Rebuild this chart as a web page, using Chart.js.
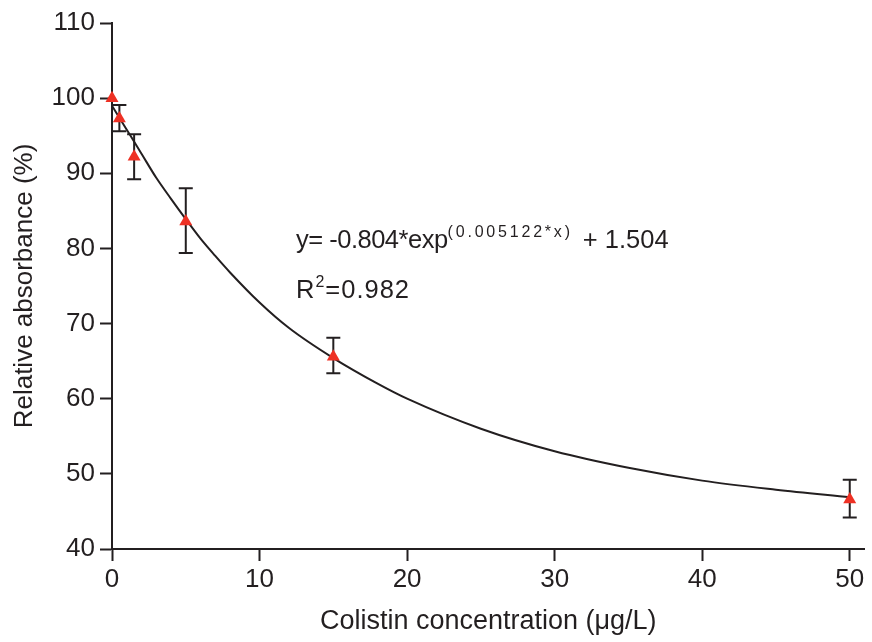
<!DOCTYPE html>
<html>
<head>
<meta charset="utf-8">
<script src="https://cdn.jsdelivr.net/npm/chart.js@4.4.1/dist/chart.umd.min.js"></script>
<style>
    body { margin: 0; background: #fff; }
    #wrap { position: relative; width: 872px; height: 642px; }
    .eq {
        position: absolute;
        font-family: "Liberation Sans", Arial, sans-serif;
        font-size: 25.5px;
        color: #231f20;
        white-space: nowrap;
        line-height: 1;
    }
    .eq sup { font-size: 16px; position: relative; top: -3px; vertical-align: top; }
    .eq .tight { letter-spacing: -0.5px; }
    .eq .sp { letter-spacing: 2.8px; }
</style>
</head>
<body>
<div id="wrap">
    <canvas id="chart" width="872" height="642"></canvas>
    <div class="eq" style="left:296px; top:227px;"><span class="tight">y= -0.804*exp</span><sup class="sp">(0.005122*x)</sup><span style="margin-left:10px">+ 1.504</span></div>
    <div class="eq" style="left:296px; top:277px; letter-spacing:1px;">R<sup>2</sup>=0.982</div>
</div>
<script>
// Measured points
const concentrations = [0, 0.5, 1.5, 5, 15, 50];
const absorbance = [100, 97.3, 92.2, 83.6, 65.6, 46.6];
const errLow = [null, 95.6, 89.2, 79.4, 63.4, 44.2];
const errHigh = [null, 99.1, 95.2, 88.0, 68.1, 49.2];

// Fitted curve
const fitX = [0, 1, 2, 3, 4, 5, 6, 7, 8, 10, 12, 15, 18, 20, 25, 30, 35, 40, 45, 50];
const fitY = [99.0, 95.8, 92.6, 89.4, 86.6, 83.9, 81.3, 79.0, 76.8, 72.8, 69.4, 65.4, 62.0, 60.0, 56.0, 53.0, 50.8, 49.1, 47.9, 46.9];

const xTicks = [0, 10, 20, 30, 40, 50];
const yTicks = [40, 50, 60, 70, 80, 90, 100, 110];

const ink = '#231f20';
const red = '#ee3124';
const font = { family: '"Liberation Sans", Arial, sans-serif', size: 26 };

// Draw error bars from the scales
const errorBars = {
    id: 'errorBars',
    beforeDatasetsDraw(chart) {
        const ctx = chart.ctx;
        const xs = chart.scales.x, ys = chart.scales.y;
        ctx.save();
        ctx.strokeStyle = ink;
        ctx.lineWidth = 2;
        concentrations.forEach((c, i) => {
            if (errLow[i] == null) return;
            const px = xs.getPixelForValue(c);
            const top = ys.getPixelForValue(errHigh[i]);
            const bot = ys.getPixelForValue(errLow[i]);
            ctx.beginPath();
            ctx.moveTo(px, top); ctx.lineTo(px, bot);
            ctx.moveTo(px - 7, top); ctx.lineTo(px + 7, top);
            ctx.moveTo(px - 7, bot); ctx.lineTo(px + 7, bot);
            ctx.stroke();
        });
        ctx.restore();
    }
};

new Chart(document.getElementById('chart'), {
    type: 'scatter',
    data: {
        datasets: [{
            type: 'line',
            data: fitX.map((x, i) => ({ x: x, y: fitY[i] })),
            borderColor: ink,
            borderWidth: 2,
            pointRadius: 0,
            cubicInterpolationMode: 'monotone',
            fill: false,
            order: 2
        }, {
            data: concentrations.map((x, i) => ({ x: x, y: absorbance[i] })),
            pointStyle: 'triangle',
            pointRadius: 7.5,
            backgroundColor: red,
            borderColor: red,
            borderWidth: 0,
            clip: false,
            order: 1
        }]
    },
    options: {
        responsive: false,
        animation: false,
        layout: { padding: { top: 23, right: 4, left: 9, bottom: 0 } },
        plugins: { legend: { display: false }, tooltip: { enabled: false } },
        scales: {
            x: {
                type: 'linear',
                min: 0,
                max: 51,
                afterBuildTicks: s => { s.ticks = xTicks.map(v => ({ value: v })); },
                afterFit: s => { s.height = 93; },
                grid: { drawOnChartArea: false, tickLength: 12, tickWidth: 2, tickColor: ink },
                border: { color: ink, width: 2 },
                ticks: { color: ink, font: font, padding: 3, maxRotation: 0 },
                title: { display: true, text: 'Colistin concentration (\u03bcg/L)', color: ink, font: { family: font.family, size: 27 }, padding: { top: 4 } }
            },
            y: {
                min: 40,
                max: 110,
                afterBuildTicks: s => { s.ticks = yTicks.map(v => ({ value: v })); },
                afterFit: s => { s.width = 103; },
                grid: { drawOnChartArea: false, tickLength: 12, tickWidth: 2, tickColor: ink },
                border: { color: ink, width: 2 },
                ticks: { color: ink, font: font, padding: 5 },
                title: { display: true, text: 'Relative absorbance (%)', color: ink, font: font, padding: 0 }
            }
        }
    },
    plugins: [errorBars]
});
</script>
</body>
</html>
